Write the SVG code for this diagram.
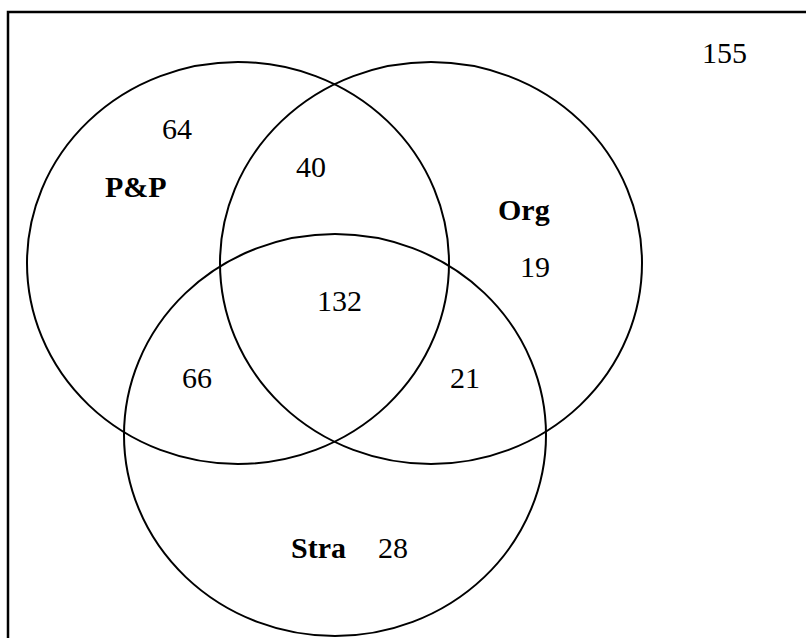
<svg xmlns="http://www.w3.org/2000/svg" width="806" height="638" viewBox="0 0 806 638">
<style>
.set{fill:none;stroke:#000;stroke-width:2}
.n{font-family:"Liberation Serif","Times New Roman",serif;font-size:30px;fill:#000}
.b{font-weight:bold}
</style>
<rect width="806" height="638" fill="#fff"/>
<path d="M8 660 V12 H820" fill="none" stroke="#000" stroke-width="2.5"/>
<g id="pp"><ellipse class="set" cx="238" cy="263" rx="211" ry="201"/><text class="n b" x="105" y="197">P&amp;P</text><text class="n" x="162" y="139">64</text></g>
<g id="org"><ellipse class="set" cx="431" cy="263" rx="211" ry="201"/><text class="n b" x="498" y="220">Org</text><text class="n" x="520" y="277">19</text></g>
<g id="stra"><ellipse class="set" cx="335" cy="435" rx="211" ry="201"/><text class="n b" x="291" y="558">Stra</text><text class="n" x="378" y="558">28</text></g>
<g id="overlaps">
<text class="n" x="296" y="177">40</text>
<text class="n" x="317" y="311">132</text>
<text class="n" x="182" y="388">66</text>
<text class="n" x="450" y="388">21</text>
</g>
<g id="outside"><text class="n" x="702" y="63">155</text></g>
</svg>
